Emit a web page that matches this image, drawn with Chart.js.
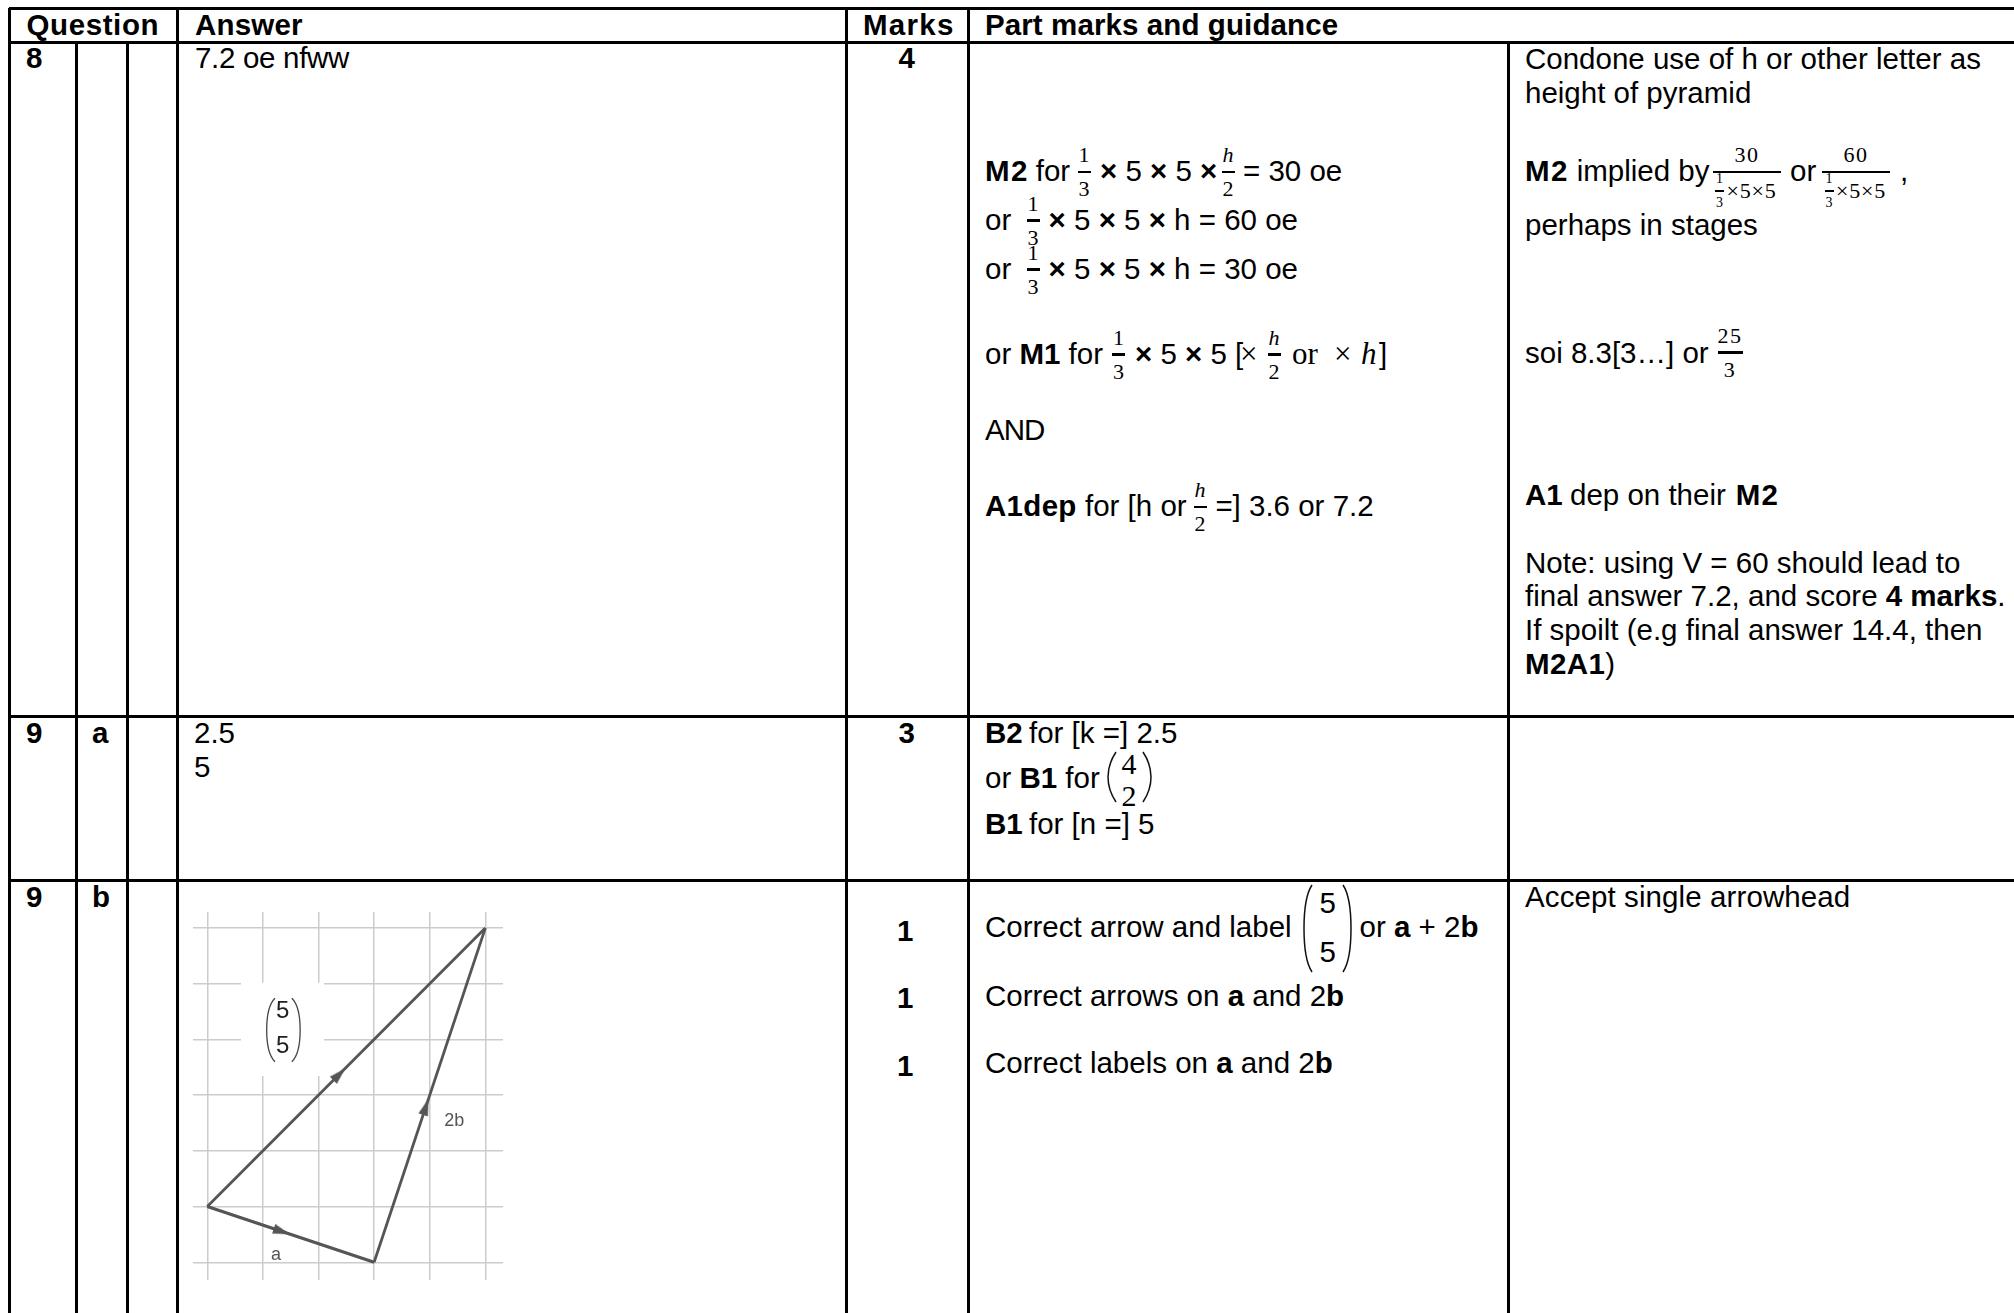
<!DOCTYPE html>
<html>
<head>
<meta charset="utf-8">
<title>Mark scheme</title>
<script src="https://cdn.jsdelivr.net/npm/chart.js@4"></script>
<style>
    html, body { margin: 0; padding: 0; background: #fff; }
    #page { position: relative; width: 2014px; height: 1313px; overflow: hidden; font-family: "Liberation Sans", Arial, sans-serif; color: #000; }
    .ln { position: absolute; background: #000; }
    .t { position: absolute; white-space: pre; line-height: 1; }
    #wrap { position: absolute; left: 193px; top: 912px; width: 310px; height: 368px; }
    svg { position: absolute; left: 0; top: 0; }
</style>
</head>
<body>
<div id="page">
    <svg width="2014" height="1313" id="brackets"></svg>
    <div id="wrap"><canvas id="vectors" width="310" height="368"></canvas></div>
</div>
<script>
// Grid and vectors of the diagram (grid units)
const gridX = [0, 1, 2, 3, 4, 5];
const gridY = [0, 1, 2, 3, 4, 5, 6];
const vectorA = [{x: 0, y: 1}, {x: 3, y: 0}];
const vector2b = [{x: 3, y: 0}, {x: 5, y: 6}];
const vectorSum = [{x: 0, y: 1}, {x: 5, y: 6}];
const arrowHeads = [{x: 1.34, y: 0.553}, {x: 3.93, y: 2.79}, {x: 2.375, y: 3.375}];
const arrowAngles = [108.4, 18.4, 45];
const columnText = ["5", "5"];
const labelA = "a";
const label2b = "2b";

const page = document.getElementById("page");

// Table rules
const hRules = [8, 42, 716, 880];
const vRulesFull = [9, 177, 846, 968];
const vRulesBody = [76, 127, 1508];

hRules.forEach(y => addLine(9, y - 1.5, 2005, 3));
vRulesFull.forEach(x => addLine(x - 1.5, 8, 3, 1305));
vRulesBody.forEach(x => addLine(x - 1.5, 42, 3, 1271));

function addLine(x, y, w, h) {
    const d = document.createElement("div");
    d.className = "ln";
    d.style.cssText = `left:${x}px;top:${y}px;width:${w}px;height:${h}px`;
    page.appendChild(d);
}

const SANS = 29.5;
function txt(x, base, html, o) {
    o = o || {};
    const size = o.size || SANS;
    const serif = o.serif;
    const d = document.createElement("div");
    d.className = "t";
    d.innerHTML = html;
    const top = base - size * (serif ? 0.8375 : 0.8465);
    let css = `left:${x}px;top:${top}px;font-size:${size}px;`;
    if (serif) css += 'font-family:"Liberation Serif",serif;';
    if (o.ls) css += `letter-spacing:${o.ls}px;`;
    if (o.center) css += "transform:translateX(-50%);";
    d.style.cssText = css;
    page.appendChild(d);
}
function frac(cx, bar, num, den, w, o) {
    o = o || {};
    const size = o.size || 22;
    const up = o.up === undefined ? 9 : o.up;
    const down = o.down === undefined ? 25 : o.down;
    txt(cx, bar - up, num, {size: size, serif: true, center: true, ls: o.ls});
    if (den) txt(cx, bar + down, den, {size: size, serif: true, center: true, ls: o.ls});
    addLine(cx - w / 2, bar - 1, w, o.th || 2.5);
}
const H = "<i>h</i>";
const X = "<b>×</b>";

// Header
txt(26.5, 35, "<b>Question</b>", {ls: 0.6});
txt(195, 35, "<b>Answer</b>", {ls: 0.2});
txt(863, 35, "<b>Marks</b>", {ls: 1.3});
txt(985, 35, "<b>Part marks and guidance</b>", {ls: 0.1});

// Row 8
txt(26, 67.5, "<b>8</b>");
txt(195, 67.5, "7.2 oe nfww", {ls: -0.3});
txt(898.5, 68, "<b>4</b>");

txt(985, 181, "<b>M2</b>", {ls: 1.5});
txt(1035.7, 181, "for");
frac(1084, 171.5, "1", "3", 13);
txt(1100, 181, `${X} 5 ${X} 5 ${X}`);
frac(1228, 171.5, H, "2", 13);
txt(1243, 181, "= 30 oe");

txt(985, 229.6, "or");
frac(1033, 220.4, "1", "3", 13);
txt(1048.6, 229.6, `${X} 5 ${X} 5 ${X} h = 60 oe`);

txt(985, 278.6, "or");
frac(1033, 269.3, "1", "3", 13);
txt(1048.6, 278.6, `${X} 5 ${X} 5 ${X} h = 30 oe`);

txt(985, 363.6, "or <b>M1</b> for");
frac(1118.6, 354.3, "1", "3", 13);
txt(1135, 363.6, `${X} 5 ${X} 5 [`);
txt(1240, 363.6, "×", {serif: true, size: 31});
frac(1274, 354.3, H, "2", 13);
txt(1292, 363.6, "or", {serif: true, size: 31});
txt(1334, 363.6, "×", {serif: true, size: 31});
txt(1361, 363.6, H, {serif: true, size: 31});
txt(1379, 363.6, "]");

txt(985, 440, "AND", {ls: -1});

txt(985, 516, "<b>A1dep</b>", {ls: 0.3});
txt(1085, 516, "for [h or");
frac(1200, 506.5, H, "2", 13);
txt(1215.4, 516, "=] 3.6 or 7.2");

txt(1525, 69, "Condone use of h or other letter as");
txt(1525, 103, "height of pyramid");
txt(1525, 180.7, "<b>M2</b>", {ls: 1.5});
txt(1576.7, 180.7, "implied by");
frac(1747, 171.7, "30", "", 68, {ls: 1.5});
frac(1719.5, 190.7, "1", "3", 9, {size: 14, up: 6.5, down: 17.5});
txt(1726.5, 198.3, "×5×5", {serif: true, size: 22, ls: 0.8});
txt(1790, 180.7, "or");
frac(1856, 171.7, "60", "", 68, {ls: 1.5});
frac(1829, 190.7, "1", "3", 9, {size: 14, up: 6.5, down: 17.5});
txt(1836, 198.3, "×5×5", {serif: true, size: 22, ls: 0.8});
txt(1900, 180.7, ",");
txt(1525, 235, "perhaps in stages");
txt(1525, 363, "soi 8.3[3…] or");
frac(1730, 352.3, "25", "3", 25, {ls: 1.5});
txt(1525, 505, "<b>A1</b>");
txt(1570, 505, "dep on their");
txt(1735.7, 505, "<b>M2</b>", {ls: 1.2});
txt(1525, 573, "Note: using V = 60 should lead to");
txt(1525, 606, "final answer 7.2, and score <b>4 marks</b>.");
txt(1525, 640, "If spoilt (e.g final answer 14.4, then");
txt(1525, 674, "<b>M2A1</b>)", {ls: 0.4});

// Row 9a
txt(26, 742.7, "<b>9</b>");
txt(92, 742.7, "<b>a</b>");
txt(194, 742.7, "2.5");
txt(194, 777.3, "5");
txt(898.5, 742.7, "<b>3</b>");
txt(985, 742.7, "<b>B2</b>");
txt(1029, 742.7, "for [k =] 2.5");
txt(985, 787.7, "or <b>B1</b> for");
txt(1129, 774, "4", {serif: true, size: 30, center: true});
txt(1129, 806, "2", {serif: true, size: 30, center: true});
txt(985, 834, "<b>B1</b>");
txt(1029, 834, "for [n =] 5");

// Row 9b
txt(26, 906.7, "<b>9</b>");
txt(92, 906.7, "<b>b</b>");
txt(897, 940.7, "<b>1</b>");
txt(897, 1008.3, "<b>1</b>");
txt(897, 1075.7, "<b>1</b>");
txt(985, 936.7, "Correct arrow and label");
txt(1327.8, 912.7, "5", {center: true});
txt(1327.8, 961.7, "5", {center: true});
txt(1359.5, 936.7, "or <b>a</b> + 2<b>b</b>");
txt(985, 1005.7, "Correct arrows on <b>a</b> and 2<b>b</b>");
txt(985, 1073, "Correct labels on <b>a</b> and 2<b>b</b>");
txt(1525, 906.7, "Accept single arrowhead", {ls: 0.1});

// Column brackets in the text cells
function bracketPair(x1, x2, top, bottom, inset) {
    const mid = (top + bottom) / 2;
    const l = `M${x1 + inset} ${top} Q${x1} ${top + 12} ${x1} ${mid} Q${x1} ${bottom - 12} ${x1 + inset} ${bottom}`;
    const r = `M${x2 - inset} ${top} Q${x2} ${top + 12} ${x2} ${mid} Q${x2} ${bottom - 12} ${x2 - inset} ${bottom}`;
    return `<path d="${l} ${r}" fill="none" stroke="#111" stroke-width="1.5"/>`;
}
document.getElementById("brackets").innerHTML =
    bracketPair(1108, 1151, 752, 802, 8) + bracketPair(1304, 1351, 885, 972, 8);

// Narrow arrow head used as point style
const headCanvas = document.createElement("canvas");
headCanvas.width = 12;
headCanvas.height = 17;
const hc = headCanvas.getContext("2d");
hc.fillStyle = "#555555";
hc.beginPath();
hc.moveTo(6, 0);
hc.lineTo(11, 17);
hc.lineTo(1, 17);
hc.closePath();
hc.fill();

// White patch, column vector and small labels of the diagram
const diagramNotes = {
    id: "diagramNotes",
    beforeDatasetsDraw(chart) {
        const c = chart.ctx, sx = chart.scales.x, sy = chart.scales.y;
        c.save();
        c.fillStyle = "#fff";
        const x0 = sx.getPixelForValue(0.606), x1 = sx.getPixelForValue(2.1);
        const y0 = sy.getPixelForValue(5.02), y1 = sy.getPixelForValue(3.345);
        c.fillRect(x0, y0, x1 - x0, y1 - y0);
        c.restore();
    },
    afterDatasetsDraw(chart) {
        const c = chart.ctx, sx = chart.scales.x, sy = chart.scales.y;
        c.save();
        c.textAlign = "center";
        c.textBaseline = "middle";
        c.fillStyle = "#222";
        c.font = '24px "Liberation Sans"';
        c.fillText(columnText[0], sx.getPixelForValue(1.356), sy.getPixelForValue(4.5));
        c.fillText(columnText[1], sx.getPixelForValue(1.356), sy.getPixelForValue(3.88));
        c.fillStyle = "#555";
        c.font = '18px "Liberation Sans"';
        c.fillText(labelA, sx.getPixelForValue(1.235), sy.getPixelForValue(0.13));
        c.fillText(label2b, sx.getPixelForValue(4.44), sy.getPixelForValue(2.54));
        // brackets round the column vector
        c.strokeStyle = "#444";
        c.lineWidth = 1.3;
        const top = sy.getPixelForValue(4.74), bot = sy.getPixelForValue(3.6), mid = (top + bot) / 2;
        [[1.218, 1.068], [1.52, 1.67]].forEach(pair => {
            const tip = sx.getPixelForValue(pair[0]), bulge = sx.getPixelForValue(pair[1]);
            c.beginPath();
            c.moveTo(tip, top);
            c.quadraticCurveTo(bulge, top + 8, bulge, mid);
            c.quadraticCurveTo(bulge, bot - 8, tip, bot);
            c.stroke();
        });
        c.restore();
    }
};

function lineSet(points, width) {
    return {
        data: points,
        showLine: true,
        borderColor: "#555555",
        borderWidth: width,
        pointRadius: 0
    };
}

new Chart(document.getElementById("vectors").getContext("2d"), {
    type: "scatter",
    data: {
        datasets: [
            lineSet(vectorA, 3.2),
            lineSet(vector2b, 2.8),
            lineSet(vectorSum, 2.8),
            {
                data: arrowHeads,
                showLine: false,
                pointStyle: headCanvas,
                pointRadius: 6,
                pointRotation: arrowAngles
            }
        ]
    },
    options: {
        responsive: false,
        animation: false,
        layout: { padding: 0, autoPadding: false },
        plugins: { legend: { display: false }, tooltip: { enabled: false } },
        scales: {
            x: {
                type: "linear",
                min: -0.257,
                max: 5.318,
                border: { display: false },
                grid: { color: "#cccccc", lineWidth: 1.5, drawTicks: false },
                afterBuildTicks: axis => { axis.ticks = gridX.map(v => ({value: v})); },
                ticks: { display: false }
            },
            y: {
                type: "linear",
                min: -0.318,
                max: 6.289,
                border: { display: false },
                grid: { color: "#cccccc", lineWidth: 1.5, drawTicks: false },
                afterBuildTicks: axis => { axis.ticks = gridY.map(v => ({value: v})); },
                ticks: { display: false }
            }
        }
    },
    plugins: [diagramNotes]
});
</script>
</body>
</html>
